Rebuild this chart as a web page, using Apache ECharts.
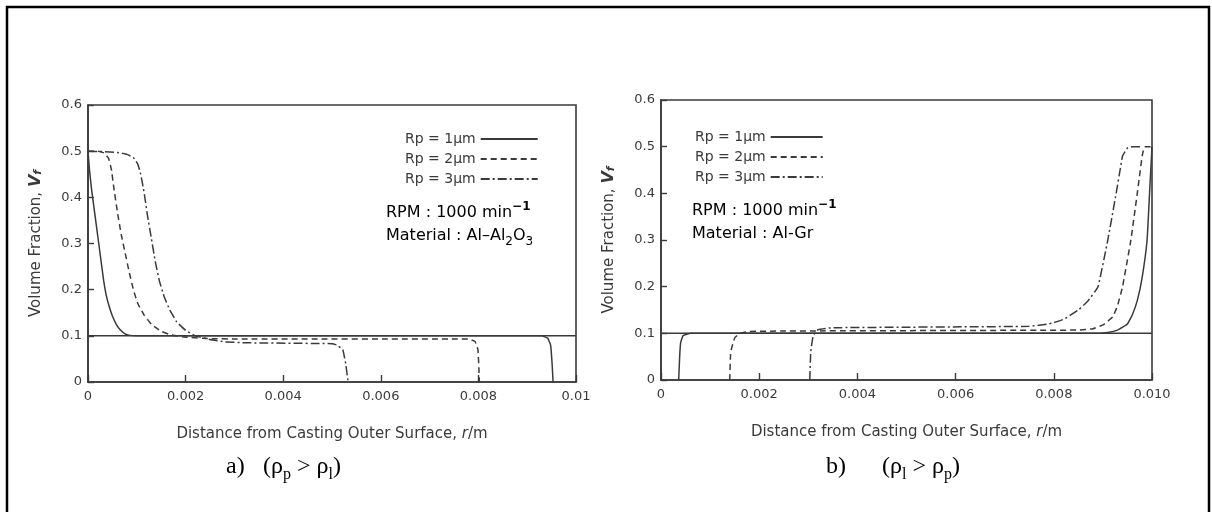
<!DOCTYPE html>
<html>
<head>
<meta charset="utf-8">
<script src="https://cdn.jsdelivr.net/npm/echarts@6/dist/echarts.min.js"></script>
<style>
html,body{margin:0;padding:0;background:#fff;}
#chart{width:1212px;height:512px;}
</style>
</head>
<body>
<div id="chart"></div>
<script>
// ---- data ----
const seriesNames = ['Rp = 1µm', 'Rp = 2µm', 'Rp = 3µm'];
const yTickLabels = ['0', '0.1', '0.2', '0.3', '0.4', '0.5', '0.6'];
const xTickLabelsA = ['0', '0.002', '0.004', '0.006', '0.008', '0.01'];
const xTickLabelsB = ['0', '0.002', '0.004', '0.006', '0.008', '0.010'];
const initialFraction = [[0, 0.1], [0.01, 0.1]];

// a) Al-Al2O3  (rho_p > rho_l)
const aR1 = [[0,0.5],[0.00003,0.46],[0.00007,0.42],[0.00012,0.38],[0.00017,0.34],[0.00022,0.3],[0.00027,0.26],[0.00032,0.22],[0.00037,0.19],[0.00043,0.165],[0.0005,0.143],[0.00058,0.125],[0.00066,0.113],[0.00075,0.105],[0.00085,0.101],[0.001,0.1],[0.0093,0.1],[0.00942,0.095],[0.00948,0.08],[0.00951,0.04],[0.00953,0]];
const aR2 = [[0,0.5],[0.0002,0.5],[0.00033,0.496],[0.00042,0.485],[0.00048,0.46],[0.00053,0.42],[0.0006,0.37],[0.00068,0.32],[0.00076,0.28],[0.00084,0.24],[0.00093,0.2],[0.00102,0.17],[0.00115,0.145],[0.0013,0.125],[0.0015,0.11],[0.0017,0.102],[0.002,0.097],[0.0025,0.094],[0.003,0.093],[0.0078,0.093],[0.00793,0.088],[0.00799,0.07],[0.00801,0.03],[0.00802,0]];
const aR3 = [[0,0.5],[0.0003,0.499],[0.0006,0.497],[0.0008,0.493],[0.00093,0.486],[0.00102,0.472],[0.00108,0.45],[0.00115,0.41],[0.00122,0.36],[0.0013,0.31],[0.00138,0.26],[0.00146,0.22],[0.00156,0.185],[0.00168,0.155],[0.00182,0.13],[0.002,0.112],[0.0022,0.1],[0.0025,0.092],[0.0028,0.087],[0.0032,0.085],[0.005,0.083],[0.0051,0.08],[0.00522,0.07],[0.00528,0.04],[0.00533,0]];

// b) Al-Gr  (rho_l > rho_p)
const bR1 = [[0.00036,0],[0.00038,0.05],[0.0004,0.08],[0.00045,0.095],[0.0006,0.1],[0.0088,0.1],[0.0091,0.102],[0.0093,0.107],[0.0095,0.12],[0.0096,0.14],[0.0097,0.17],[0.0098,0.22],[0.0099,0.3],[0.00995,0.4],[0.01,0.5]];
const bR2 = [[0.0014,0],[0.00142,0.06],[0.0015,0.09],[0.0016,0.1],[0.0018,0.104],[0.0025,0.105],[0.0085,0.107],[0.0088,0.11],[0.009,0.118],[0.0092,0.135],[0.0093,0.16],[0.0094,0.2],[0.00957,0.3],[0.0097,0.4],[0.0098,0.48],[0.00985,0.5],[0.01,0.5]];
const bR3 = [[0.00303,0],[0.00305,0.06],[0.0031,0.095],[0.0032,0.108],[0.0035,0.112],[0.0075,0.115],[0.0079,0.12],[0.0082,0.13],[0.0085,0.15],[0.0087,0.17],[0.0089,0.2],[0.0091,0.3],[0.00927,0.4],[0.00935,0.45],[0.0094,0.48],[0.0095,0.497],[0.0096,0.5],[0.0098,0.5]];

// ---- styles ----
const INK = '#3a3a3a';
const FONT = 'DejaVu Sans';
const dashTypes = ['solid', [6, 4], [9, 3, 2, 3]];

function xAxisCfg(idx, labels) {
  return {
    type: 'value', gridIndex: idx, min: 0, max: 0.01, interval: 0.002,
    axisLine: {show: true, lineStyle: {color: INK, width: 1.6}},
    axisTick: {show: true, inside: true, length: 7, lineStyle: {color: INK, width: 1.4}},
    splitLine: {show: false},
    axisLabel: {color: INK, fontFamily: FONT, fontSize: 13, margin: 8,
      formatter: v => labels[Math.round(v / 0.002)]},
    name: 'Distance from Casting Outer Surface, {i|r}/m',
    nameLocation: 'middle', nameGap: 45,
    nameTextStyle: {color: INK, fontFamily: FONT, fontSize: 15,
      rich: {i: {fontStyle: 'italic', fontFamily: FONT, fontSize: 15, color: INK}}}
  };
}
function yAxisCfg(idx) {
  return {
    type: 'value', gridIndex: idx, min: 0, max: 0.6, interval: 0.1,
    axisLine: {show: true, lineStyle: {color: INK, width: 1.6}},
    axisTick: {show: true, inside: true, length: 6, lineStyle: {color: INK, width: 1.4}},
    splitLine: {show: false},
    axisLabel: {color: INK, fontFamily: FONT, fontSize: 13, margin: 6,
      formatter: v => yTickLabels[Math.round(v * 10)]},
    name: 'Volume Fraction, {v|V}{s|f}',
    nameLocation: 'middle', nameGap: 44, nameRotate: 90,
    nameTextStyle: {color: INK, fontFamily: FONT, fontSize: 15,
      rich: {v: {fontStyle: 'italic', fontFamily: FONT, fontSize: 16, color: INK, fontWeight: 'bold'},
             s: {fontStyle: 'italic', fontFamily: FONT, fontSize: 11, color: INK, verticalAlign: 'bottom', fontWeight: 'bold'}}}
  };
}
function curve(name, data, k, gi) {
  return {
    name: name, type: 'line', xAxisIndex: gi, yAxisIndex: gi, data: data,
    showSymbol: false, symbol: 'none', smooth: 0.1, animation: false,
    lineStyle: {color: INK, width: 1.5, type: dashTypes[k]},
    itemStyle: {color: INK}
  };
}
function baseLine(gi) {
  return {
    name: 'initial', type: 'line', xAxisIndex: gi, yAxisIndex: gi, data: initialFraction,
    showSymbol: false, symbol: 'none', animation: false,
    lineStyle: {color: INK, width: 1.5}, silent: true
  };
}
const legendText = {fontFamily: FONT, fontSize: 14, color: INK};
const rpmRich = {
  t: {fontFamily: FONT, fontSize: 16, color: INK, lineHeight: 24},
  sup: {fontFamily: FONT, fontSize: 12, color: INK, verticalAlign: 'top', fontWeight: 'bold'},
  sub: {fontFamily: FONT, fontSize: 12, color: INK, verticalAlign: 'bottom'}
};
const capRich = {
  t: {fontFamily: 'Liberation Serif', fontSize: 24, color: '#000', lineHeight: 32},
  sub: {fontFamily: 'Liberation Serif', fontSize: 16, color: '#000', verticalAlign: 'bottom'}
};
function legendCfg(left, top, w) {
  return {left: left, top: top, orient: 'vertical', align: 'right', itemWidth: w, itemHeight: 10, itemGap: 6,
    textStyle: legendText, data: seriesNames, selectedMode: false,
    itemStyle: {opacity: 0, borderWidth: 0}, lineStyle: {opacity: 1}};
}

const chart = echarts.init(document.getElementById('chart'), null, {renderer: 'canvas'});
chart.setOption({
  backgroundColor: '#fff',
  animation: false,
  grid: [
    {left: 88, top: 105, width: 488, height: 277, show: true, borderColor: INK, borderWidth: 1.6, backgroundColor: 'transparent'},
    {left: 661, top: 100, width: 491, height: 280, show: true, borderColor: INK, borderWidth: 1.6, backgroundColor: 'transparent'}
  ],
  xAxis: [xAxisCfg(0, xTickLabelsA), xAxisCfg(1, xTickLabelsB)],
  yAxis: [yAxisCfg(0), yAxisCfg(1)],
  legend: [legendCfg(400, 127, 57), legendCfg(690, 125, 52)],
  series: [
    baseLine(0),
    curve(seriesNames[0], aR1, 0, 0), curve(seriesNames[1], aR2, 1, 0), curve(seriesNames[2], aR3, 2, 0),
    baseLine(1),
    curve(seriesNames[0], bR1, 0, 1), curve(seriesNames[1], bR2, 1, 1), curve(seriesNames[2], bR3, 2, 1)
  ],
  graphic: [
    {type: 'polyline', silent: true, shape: {points: [[7, 530], [7, 7], [1209, 7], [1209, 530]]},
     style: {stroke: '#000', lineWidth: 2.5, fill: null}},
    {type: 'text', left: 386, top: 201, style: {text: '{t|RPM : 1000 min}{sup|−1}', rich: rpmRich}},
    {type: 'text', left: 386, top: 228, style: {text: '{t|Material : Al–Al}{sub|2}{t|O}{sub|3}', rich: rpmRich}},
    {type: 'text', left: 692, top: 199, style: {text: '{t|RPM : 1000 min}{sup|−1}', rich: rpmRich}},
    {type: 'text', left: 692, top: 226, style: {text: '{t|Material : Al-Gr}', rich: rpmRich}},
    {type: 'text', left: 226, top: 455, style: {text: '{t|a)}', rich: capRich}},
    {type: 'text', left: 263, top: 455, style: {text: '{t|(ρ}{sub|p}{t| > ρ}{sub|l}{t|)}', rich: capRich}},
    {type: 'text', left: 826, top: 455, style: {text: '{t|b)}', rich: capRich}},
    {type: 'text', left: 882, top: 455, style: {text: '{t|(ρ}{sub|l}{t| > ρ}{sub|p}{t|)}', rich: capRich}}
  ]
});
</script>
</body>
</html>
